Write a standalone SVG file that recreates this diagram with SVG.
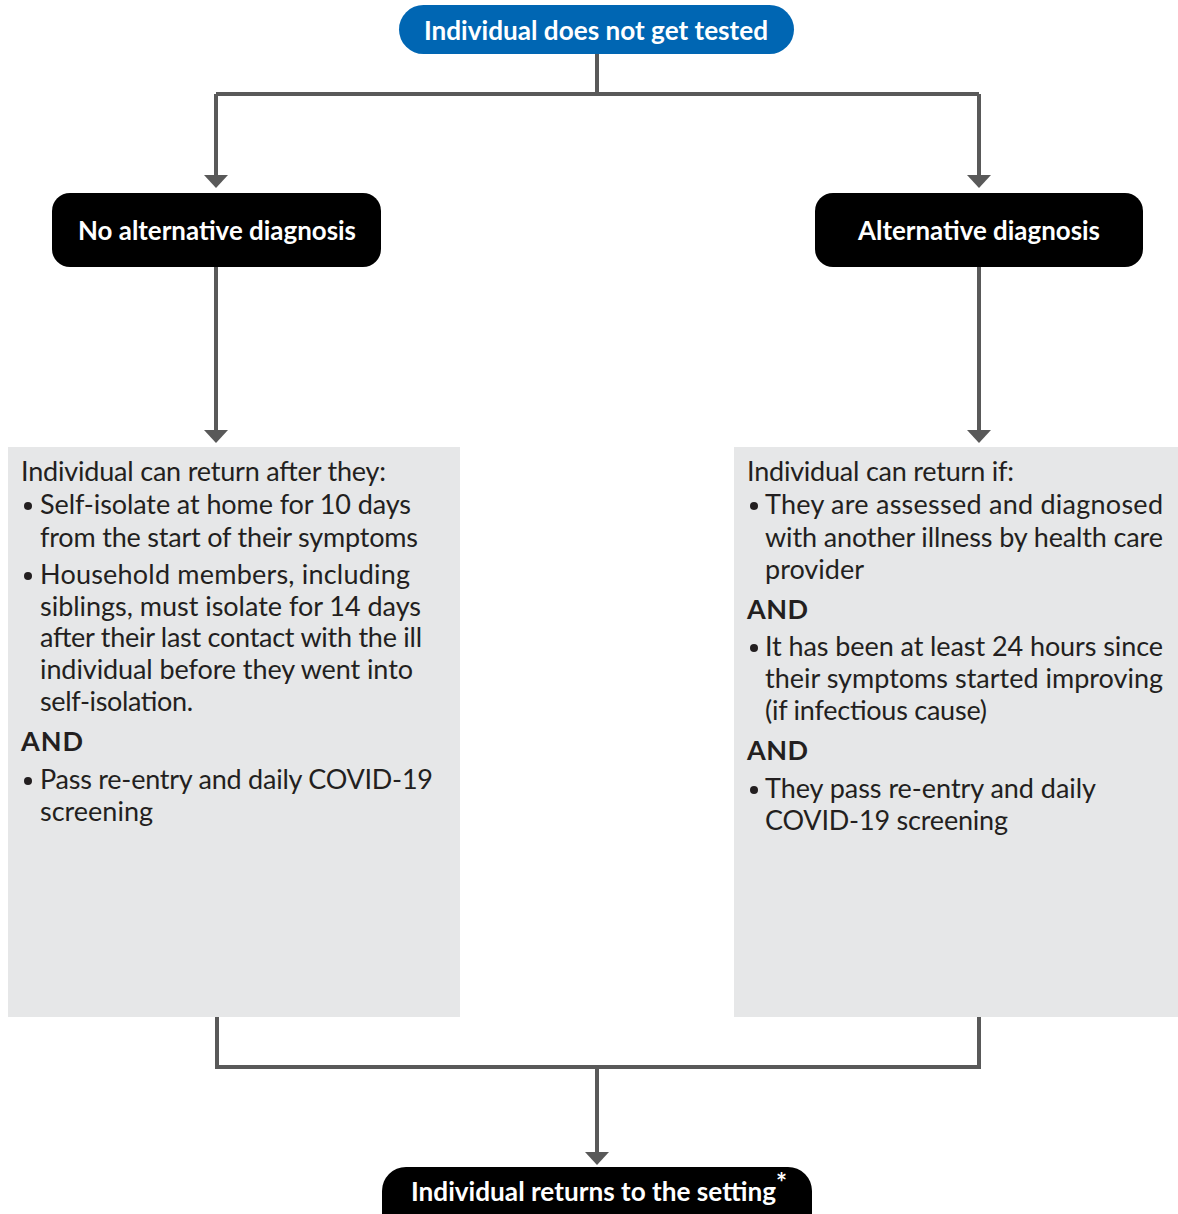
<svg xmlns="http://www.w3.org/2000/svg" width="1178" height="1214" viewBox="0 0 1178 1214">
<style>
.conn{fill:none;stroke:#595959;stroke-width:4}
.hd{fill:#fff;font-family:Lato,"Liberation Sans",sans-serif;font-weight:bold;font-size:26px}
.bx{fill:#e6e7e8}
.t{fill:#231f20;font-family:Lato,"Liberation Sans",sans-serif;font-size:27px}
.b{font-weight:bold}
.dot{fill:#231f20}
</style>
<rect width="1178" height="1214" fill="#fff"/>
<g id="connectors">
<path class="conn" d="M597,54 V94"/>
<path class="conn" d="M216,94 H979"/>
<path d="M216,94 V176" class="conn"/>
<polygon points="204,175 228,175 216,188" fill="#595959"/>
<path d="M979,94 V176" class="conn"/>
<polygon points="967,175 991,175 979,188" fill="#595959"/>
<path d="M216,267 V431" class="conn"/>
<polygon points="204,430 228,430 216,443" fill="#595959"/>
<path d="M979,267 V431" class="conn"/>
<polygon points="967,430 991,430 979,443" fill="#595959"/>
<path class="conn" d="M217,1017 V1067 H979 V1017"/>
<path class="conn" d="M597,1067 V1153"/>
<polygon points="585,1152 609,1152 597,1165" fill="#595959"/>
</g>
<g id="start">
<rect x="399" y="5" width="395" height="49" rx="24.5" fill="#0066b3"/>
<text class="hd" x="424" y="40" textLength="344" lengthAdjust="spacingAndGlyphs">Individual does not get tested</text>
</g>
<g id="no-alt">
<rect x="52" y="193" width="329" height="74" rx="18" fill="#000"/>
<text class="hd" x="78" y="240" textLength="278" lengthAdjust="spacingAndGlyphs">No alternative diagnosis</text>
</g>
<g id="alt">
<rect x="815" y="193" width="328" height="74" rx="18" fill="#000"/>
<text class="hd" x="858" y="240" textLength="242" lengthAdjust="spacingAndGlyphs">Alternative diagnosis</text>
</g>
<g id="left-box">
<rect class="bx" x="8" y="447" width="452" height="570"/>
<text class="t" x="21" y="481" textLength="365">Individual can return after they:</text>
<circle class="dot" cx="28" cy="506" r="4"/>
<text class="t" x="40" y="514" textLength="371">Self-isolate at home for 10 days</text>
<text class="t" x="40" y="547" textLength="378">from the start of their symptoms</text>
<circle class="dot" cx="28" cy="576" r="4"/>
<text class="t" x="40" y="584" textLength="370">Household members, including</text>
<text class="t" x="40" y="616" textLength="381">siblings, must isolate for 14 days</text>
<text class="t" x="40" y="647" textLength="382">after their last contact with the ill</text>
<text class="t" x="40" y="679" textLength="373">individual before they went into</text>
<text class="t" x="40" y="711" textLength="153">self-isolation.</text>
<text class="t b" x="21" y="751" textLength="62">AND</text>
<circle class="dot" cx="28" cy="781" r="4"/>
<text class="t" x="40" y="789" textLength="393">Pass re-entry and daily COVID-19</text>
<text class="t" x="40" y="821" textLength="113">screening</text>
</g>
<g id="right-box">
<rect class="bx" x="734" y="447" width="444" height="570"/>
<text class="t" x="747" y="481" textLength="267">Individual can return if:</text>
<circle class="dot" cx="754" cy="506" r="4"/>
<text class="t" x="765" y="514" textLength="398">They are assessed and diagnosed</text>
<text class="t" x="765" y="547" textLength="398">with another illness by health care</text>
<text class="t" x="765" y="579" textLength="99">provider</text>
<text class="t b" x="747" y="619" textLength="61">AND</text>
<circle class="dot" cx="754" cy="648" r="4"/>
<text class="t" x="765" y="656" textLength="398">It has been at least 24 hours since</text>
<text class="t" x="765" y="688" textLength="398">their symptoms started improving</text>
<text class="t" x="765" y="720" textLength="222">(if infectious cause)</text>
<text class="t b" x="747" y="760" textLength="61">AND</text>
<circle class="dot" cx="754" cy="790" r="4"/>
<text class="t" x="765" y="798" textLength="331">They pass re-entry and daily</text>
<text class="t" x="765" y="830" textLength="243">COVID-19 screening</text>
</g>
<g id="end">
<rect x="382" y="1167" width="430" height="70" rx="24" fill="#000"/>
<text class="hd" x="411" y="1201" textLength="365" lengthAdjust="spacingAndGlyphs">Individual returns to the setting</text>
<text class="hd" x="776" y="1192" font-size="9">*</text>
</g>
</svg>
